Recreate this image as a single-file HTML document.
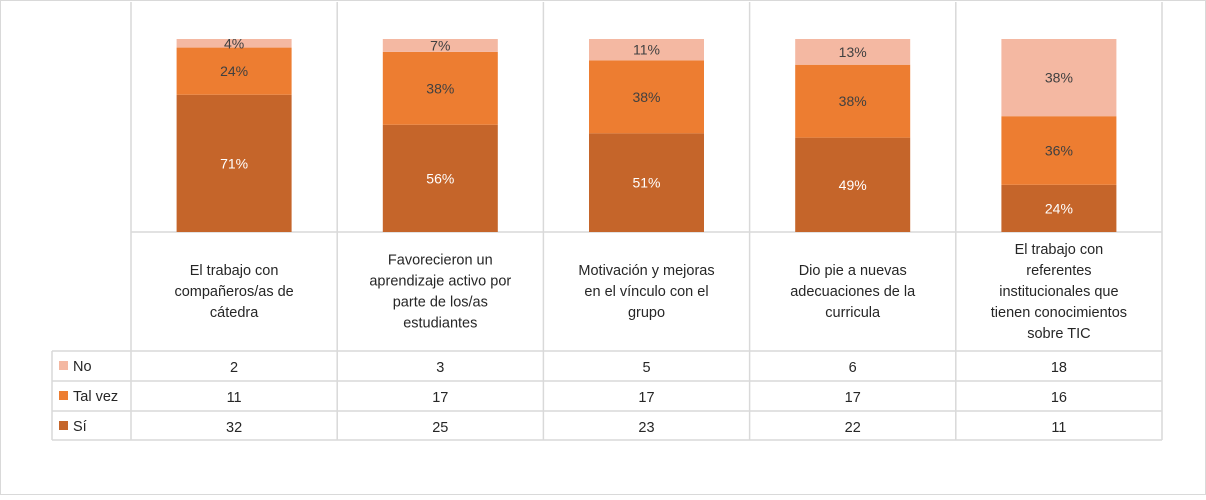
<!DOCTYPE html>
<html><head><meta charset="utf-8"><style>
body{margin:0;width:1206px;height:495px;background:#fff;overflow:hidden;font-family:"Liberation Sans",Calibri,sans-serif}
svg text{font-family:"Liberation Sans",sans-serif}
</style></head><body>
<svg id="chart" width="1206" height="495" xmlns="http://www.w3.org/2000/svg">
<rect x="0.5" y="0.5" width="1205" height="494" fill="#fff" stroke="#d9d9d9"/>
<g id="grid"></g><g id="bars"></g><g id="table"></g>
</svg>
<script>
const categories=[["El trabajo con","compañeros/as de","cátedra"],["Favorecieron un","aprendizaje activo por","parte de los/as","estudiantes"],["Motivación y mejoras","en el vínculo con el","grupo"],["Dio pie a nuevas","adecuaciones de la","curricula"],["El trabajo con","referentes","institucionales que","tienen conocimientos","sobre TIC"]];
const seriesNames=["No","Tal vez","Sí"];
const noVals=[2,3,5,6,18];
const talVals=[11,17,17,17,16];
const siVals=[32,25,23,22,11];
const noLabels=["4%","7%","11%","13%","38%"];
const talLabels=["24%","38%","38%","38%","36%"];
const siLabels=["71%","56%","51%","49%","24%"];
const colors=["#F4B8A2","#ED7D31","#C5652A"];
const NS="http://www.w3.org/2000/svg";
function mk(t,a,p){const e=document.createElementNS(NS,t);for(const k in a)e.setAttribute(k,a[k]);p.appendChild(e);return e;}
const x0=131,colW=206.2,yTop=39,yBot=232,barW=115;
const xc=i=>x0+colW*i+colW/2;
const yS=f=>yBot-f*(yBot-yTop);
const grid=document.getElementById('grid'),bars=document.getElementById('bars'),tab=document.getElementById('table');
const gc="#d9d9d9";
for(let i=0;i<=categories.length;i++){const x=x0+colW*i;const l=mk('line',{x1:x,x2:x,y1:2,y2:440,stroke:gc,'stroke-width':1.5},grid);}
[[232,x0],[351,52],[381,52],[411,52],[440,52]].forEach(([y,xs])=>{const l=mk('line',{x1:xs,x2:x0+colW*5,y1:y,y2:y,stroke:gc,'stroke-width':1.5},grid);});
{const l=mk('line',{x1:52,x2:52,y1:351,y2:440,stroke:gc,'stroke-width':1.5},grid);}
const series=[siVals,talVals,noVals],labs=[siLabels,talLabels,noLabels],cols=[colors[2],colors[1],colors[0]],names=["si","tal-vez","no"];
categories.forEach((c,i)=>{
 const tot=noVals[i]+talVals[i]+siVals[i];let cum=0;
 series.forEach((s,k)=>{
  const f0=cum/tot,f1=(cum+s[i])/tot;cum+=s[i];
  const r=mk('rect',{x:xc(i)-barW/2,y:yS(f1),width:barW,height:yS(f0)-yS(f1),fill:cols[k]},bars);
  
  const t=mk('text',{x:xc(i),y:(yS(f0)+yS(f1))/2+5,'text-anchor':'middle','font-size':14,fill:k==0?'#fff':'#404040'},bars);
  t.textContent=labs[k][i];
 });
 const n=c.length,y0=291-(n-1)*10.5+5;
 const g=mk('text',{x:xc(i),'text-anchor':'middle','font-size':14.5,fill:'#262626'},tab);
 
 c.forEach((ln,j)=>{const ts=mk('tspan',{x:xc(i),y:y0+j*21},g);ts.textContent=ln;});
 [noVals,talVals,siVals].forEach((s,r)=>{const t=mk('text',{x:xc(i),y:372+r*30,'text-anchor':'middle','font-size':14.5,fill:'#262626'},tab);t.textContent=s[i];});
});
seriesNames.forEach((nm,r)=>{
 const y=366+r*30;
 const k=mk('rect',{x:59,y:y-5,width:9,height:9,fill:colors[r]},tab);
 const t=mk('text',{x:73,y:y+5,'font-size':14.5,fill:'#262626'},tab);t.textContent=nm;
});
</script>
</body></html>
